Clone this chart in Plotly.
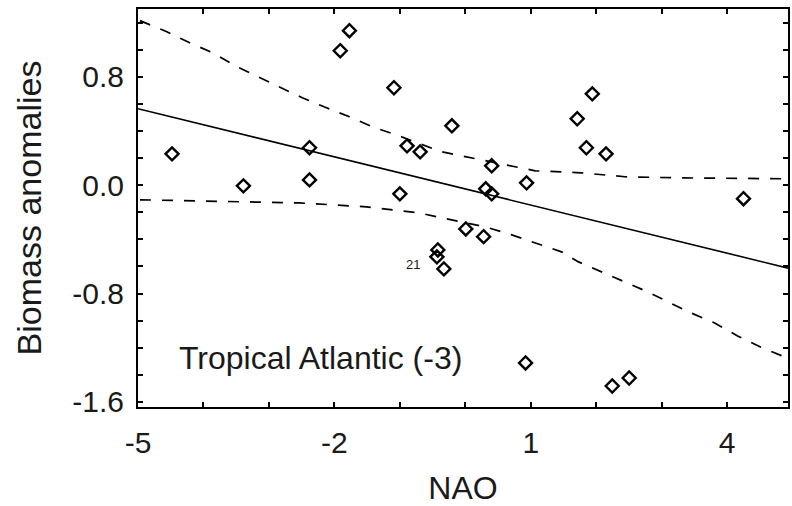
import plotly.graph_objects as go

# Scatter points (NAO, Biomass anomalies)
nao = [-4.48, -3.39, -2.38, -2.38, -1.91, -1.77, -1.09, -1.00, -0.89, -0.69,
       -0.205, 0.403, 0.312, 0.403, 0.936, 1.71, 1.94, 1.85, 2.15, 4.25,
       0.008, 0.28, -0.419, -0.434, -0.327, 0.921, 2.245, 2.504]
biomass = [0.231, -0.005, 0.276, 0.039, 0.992, 1.14, 0.719, -0.064, 0.29, 0.246,
           0.438, 0.143, -0.027, -0.064, 0.017, 0.49, 0.674, 0.276, 0.231, -0.10,
           -0.323, -0.38, -0.478, -0.529, -0.618, -1.312, -1.482, -1.423]

# Regression line
fit_x = [-5.0, 4.93]
fit_y = [0.564, -0.612]

# Upper confidence band
upper_x = [-4.97, -4.56, -4.21, -3.86, -3.49, -3.17, -2.84, -2.49, -2.12, -1.77,
           -1.42, -1.06, -0.36, 0.01, 0.66, 1.07, 1.77, 2.44, 3.25, 4.93]
upper_y = [1.214, 1.132, 1.051, 0.977, 0.874, 0.80, 0.726, 0.645, 0.571, 0.505,
           0.431, 0.372, 0.246, 0.209, 0.143, 0.106, 0.091, 0.062, 0.054, 0.047]

# Lower confidence band
lower_x = [-4.97, -3.45, -2.53, -1.51, -1.06, -0.71, -0.36, 0.01, 0.31, 0.71,
           1.07, 1.47, 1.73, 2.08, 2.44, 2.79, 3.10, 3.45, 3.81, 4.16, 4.51, 4.88]
lower_y = [-0.108, -0.123, -0.131, -0.160, -0.182, -0.204, -0.241, -0.278, -0.308, -0.367,
           -0.426, -0.492, -0.566, -0.640, -0.714, -0.788, -0.862, -0.943, -1.017, -1.113, -1.194, -1.268]

x_ticks = [-5, -2, 1, 4]
x_ticklabels = ["-5", "-2", "1", "4"]
y_ticks = [-1.6, -0.8, 0.0, 0.8]
y_ticklabels = ["-1.6", "-0.8", "0.0", "0.8"]

label_point = (-0.327, -0.618)
label_text = "21"
panel_label = "Tropical Atlantic (-3)"

FONT = "Liberation Sans, Arial, sans-serif"
INK = "#1a1a1a"

fig = go.Figure()
fig.add_trace(go.Scatter(x=upper_x, y=upper_y, mode="lines",
                         line=dict(color="black", width=1.7, dash="11px,11px"),
                         hoverinfo="skip"))
fig.add_trace(go.Scatter(x=lower_x, y=lower_y, mode="lines",
                         line=dict(color="black", width=1.7, dash="11px,11px"),
                         hoverinfo="skip"))
fig.add_trace(go.Scatter(x=fit_x, y=fit_y, mode="lines",
                         line=dict(color="black", width=1.6)))
fig.add_trace(go.Scatter(x=nao, y=biomass, mode="markers",
                         marker=dict(symbol="diamond-open", size=10, color="black",
                                     line=dict(width=2.4, color="black"))))

fig.add_annotation(x=label_point[0], y=label_point[1], text=label_text, showarrow=False,
                   xanchor="right", yanchor="middle", xshift=-22, yshift=4,
                   font=dict(family=FONT, size=13, color=INK))
fig.add_annotation(x=-4.4, y=-1.275, text=panel_label, showarrow=False,
                   xanchor="left", yanchor="middle",
                   font=dict(family=FONT, size=32, color=INK))

fig.update_layout(
    width=792, height=506,
    margin=dict(l=138, r=2, t=9, b=99),
    paper_bgcolor="white", plot_bgcolor="white",
    showlegend=False,
    font=dict(family=FONT, size=30, color=INK),
)
fig.update_xaxes(
    range=[-5, 4.93], tickmode="array", tickvals=x_ticks, ticktext=x_ticklabels,
    ticks="inside", ticklen=5, tickwidth=1.5, tickcolor="black",
    minor=dict(dtick=1, tick0=-5, ticks="inside", ticklen=5, tickwidth=1.5, tickcolor="black", showgrid=False),
    showline=True, linecolor="black", linewidth=2, mirror="ticks",
    showgrid=False, zeroline=False,
    tickfont=dict(family=FONT, size=30, color=INK), ticklabelstandoff=8,
    title=dict(text="NAO", font=dict(family=FONT, size=32, color=INK), standoff=22),
)
fig.update_yaxes(
    range=[-1.637, 1.30], tickmode="array", tickvals=y_ticks, ticktext=y_ticklabels,
    ticks="inside", ticklen=5, tickwidth=1.5, tickcolor="black",
    minor=dict(dtick=0.2, tick0=0, ticks="inside", ticklen=5, tickwidth=1.5, tickcolor="black", showgrid=False),
    showline=True, linecolor="black", linewidth=2, mirror="ticks",
    showgrid=False, zeroline=False,
    tickfont=dict(family=FONT, size=30, color=INK), ticklabelstandoff=6,
    title=dict(text="Biomass anomalies", font=dict(family=FONT, size=34, color=INK), standoff=20),
)

fig.write_html("out.html")
